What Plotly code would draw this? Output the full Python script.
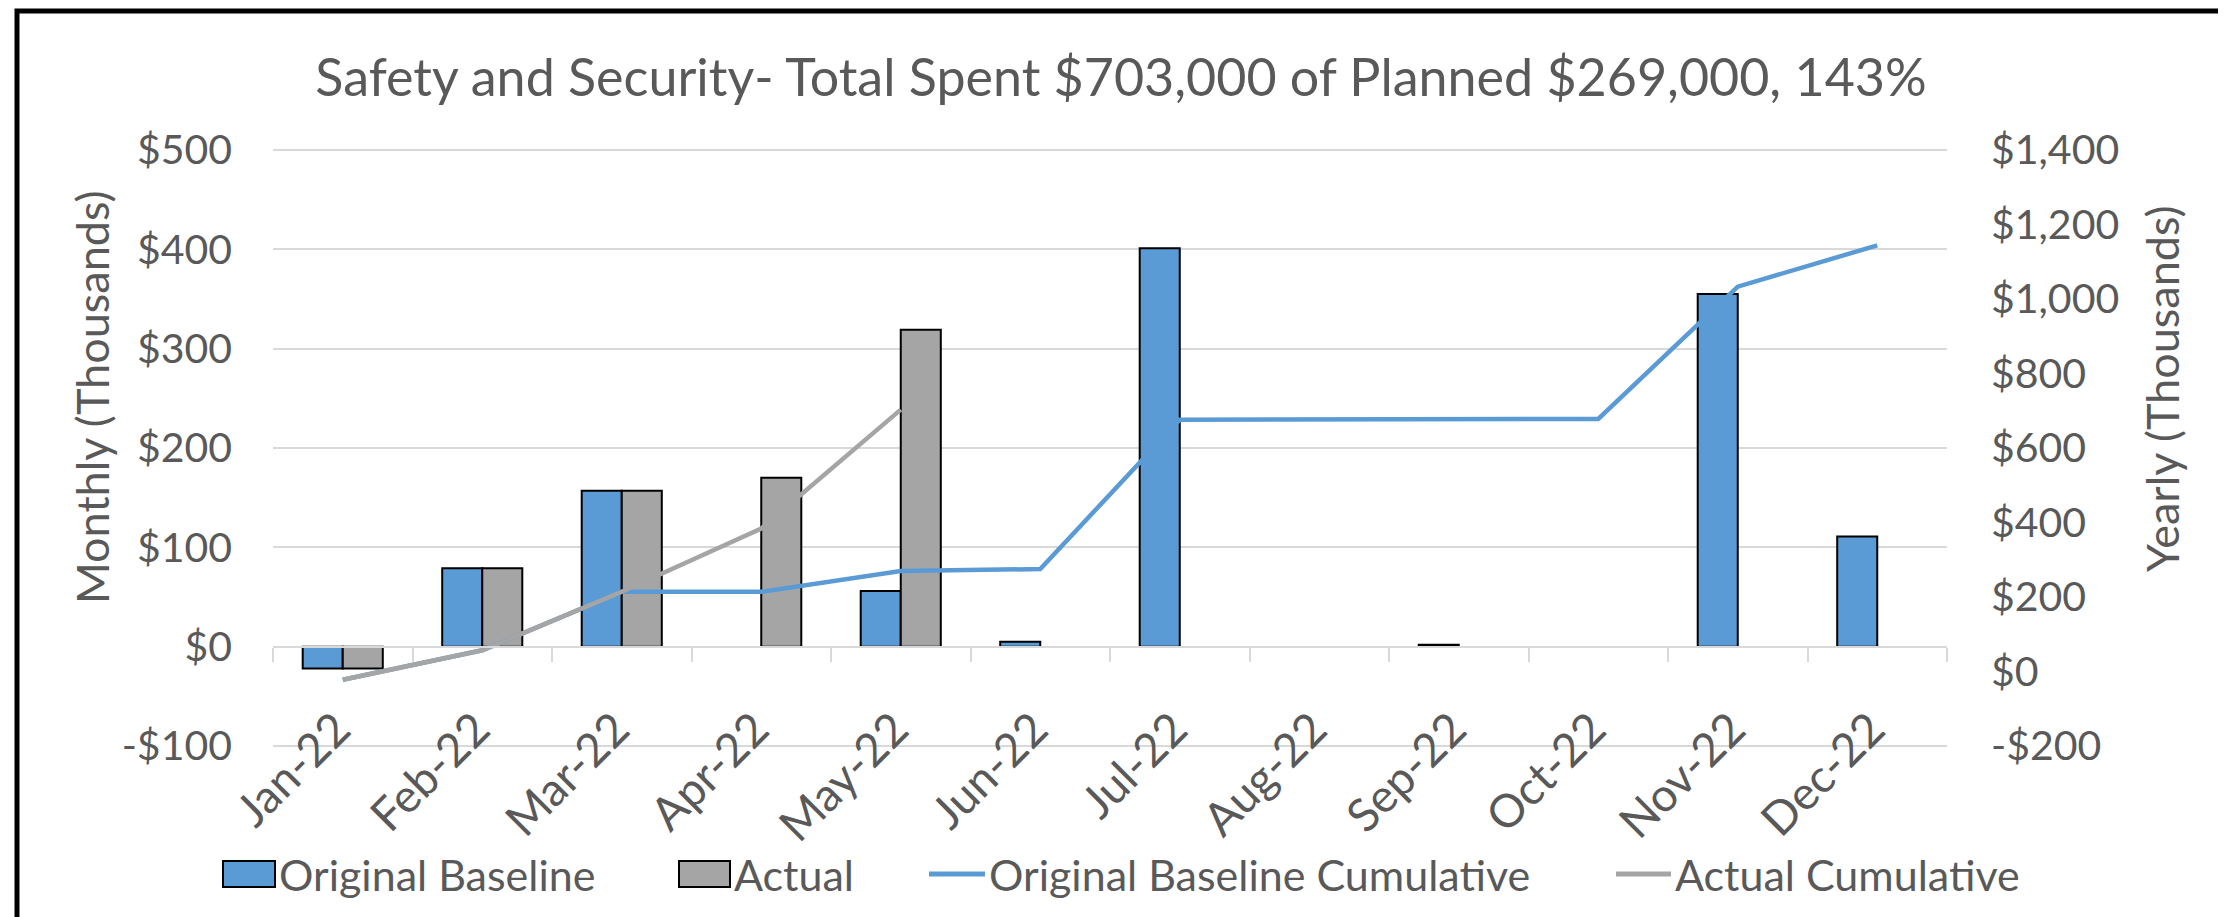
import plotly.graph_objects as go

# data (thousands of dollars)
months = ["Jan-22", "Feb-22", "Mar-22", "Apr-22", "May-22", "Jun-22",
          "Jul-22", "Aug-22", "Sep-22", "Oct-22", "Nov-22", "Dec-22"]
original_baseline = [-22, 79, 157, None, 56, 5, 401, None, 2, None, 355, 111]
actual = [-22, 79, 157, 170, 319, None, None, None, None, None, None, None]
original_cumulative = [-22, 57, 214, 214, 270, 275, 676, 676, 678, 678, 1033, 1144]
actual_cumulative = [-22, 57, 214, 384, 703]

left_ticks = [-100, 0, 100, 200, 300, 400, 500]
left_labels = ["-$100", "$0", "$100", "$200", "$300", "$400", "$500"]
right_ticks = [-200, 0, 200, 400, 600, 800, 1000, 1200, 1400]
right_labels = ["-$200", "$0", "$200", "$400", "$600", "$800", "$1,000", "$1,200", "$1,400"]

BLUE = "#5B9BD5"
GRAY = "#A5A5A5"
TXT = "#595959"
GRID = "#D9D9D9"
FONT = "Lato, Carlito, Calibri, sans-serif"

W, H = 2226, 917
L, R, T, B = 265, 287, 139, 176
PW, PH = W - L - R, H - T - B

# ranges padded by three units so plotly keeps the end gridlines
Y_RANGE = [-103, 503]
Y2_RANGE = [-200 - 3 * 1600 / 600, 1400 + 3 * 1600 / 600]


# pixel -> paper helpers (for the hand drawn legend and frame)
def px(x):
    return (x - L) / PW


def py(y):
    return (H - B - y) / PH


fig = go.Figure()

fig.add_trace(go.Bar(x=months, y=original_baseline, name="Original Baseline",
                     marker=dict(color=BLUE, line=dict(color="black", width=2))))
fig.add_trace(go.Bar(x=months, y=actual, name="Actual",
                     marker=dict(color=GRAY, line=dict(color="black", width=2))))
fig.add_trace(go.Scatter(x=months, y=original_cumulative, name="Original Baseline Cumulative",
                         mode="lines", line=dict(color=BLUE, width=4.5), yaxis="y2"))
fig.add_trace(go.Scatter(x=months[:len(actual_cumulative)], y=actual_cumulative,
                         name="Actual Cumulative", mode="lines",
                         line=dict(color=GRAY, width=4.5), yaxis="y2"))

fig.update_layout(
    width=W, height=H,
    margin=dict(l=L, r=R, t=T, b=B),
    paper_bgcolor="white", plot_bgcolor="white",
    font=dict(family=FONT, size=41, color=TXT),
    showlegend=False,
    barmode="group", bargap=0.426, bargroupgap=0,
    title=dict(text="Safety and Security- Total Spent $703,000 of Planned $269,000, 143%",
               x=0.5, xanchor="center", y=1 - 70 / H, yanchor="middle",
               font=dict(family=FONT, size=52, color=TXT)),
    xaxis=dict(type="category", anchor="free", position=(0 - Y_RANGE[0]) / (Y_RANGE[1] - Y_RANGE[0]),
               showline=True, linecolor=GRID, linewidth=2,
               ticks="outside", tickson="boundaries", ticklen=14,
               tickcolor=GRID, tickwidth=2, tickangle=-45,
               tickfont=dict(size=46), ticklabelstandoff=36, ticklabelshift=-6,
               showgrid=False, zeroline=False, range=[-0.5, 11.5]),
    yaxis=dict(range=Y_RANGE, tickvals=left_ticks, ticktext=left_labels,
               showgrid=True, gridcolor=GRID, gridwidth=2,
               zeroline=True, zerolinecolor=GRID, zerolinewidth=2,
               ticks="", ticklabelstandoff=40),
    yaxis2=dict(range=Y2_RANGE, tickvals=right_ticks, ticktext=right_labels,
                overlaying="y", side="right", showgrid=False, zeroline=False,
                ticks="", ticklabelstandoff=43),
)

# axis titles
fig.add_annotation(text="Monthly (Thousands)", xref="paper", yref="paper",
                   x=px(55), y=py(390), textangle=-90, showarrow=False,
                   font=dict(family=FONT, size=45, color=TXT))
fig.add_annotation(text="Yearly (Thousands)", xref="paper", yref="paper",
                   x=px(2183), y=py(381), textangle=-90, showarrow=False,
                   font=dict(family=FONT, size=45, color=TXT))

# legend drawn by hand so the keys have the reference's size
cy = 866
fig.add_shape(type="rect", xref="paper", yref="paper", x0=px(215), x1=px(267),
              y0=py(853), y1=py(879), fillcolor=BLUE, line=dict(color="black", width=2))
fig.add_shape(type="rect", xref="paper", yref="paper", x0=px(671), x1=px(722),
              y0=py(853), y1=py(879), fillcolor=GRAY, line=dict(color="black", width=2))
fig.add_shape(type="line", xref="paper", yref="paper", x0=px(921), x1=px(977),
              y0=py(cy), y1=py(cy), line=dict(color=BLUE, width=5))
fig.add_shape(type="line", xref="paper", yref="paper", x0=px(1608), x1=px(1663),
              y0=py(cy), y1=py(cy), line=dict(color=GRAY, width=5))
for label, x0 in [("Original Baseline", 269), ("Actual", 724),
                  ("Original Baseline Cumulative", 979), ("Actual Cumulative", 1665)]:
    fig.add_annotation(text=label, xref="paper", yref="paper", x=px(x0), y=py(cy),
                       xanchor="left", yanchor="middle", showarrow=False,
                       font=dict(family=FONT, size=43, color=TXT))

# outer frame (top, left, right; bottom is cut off in the reference)
fig.add_shape(type="rect", xref="paper", yref="paper", x0=px(9), x1=px(2218),
              y0=py(3), y1=py(940), line=dict(color="black", width=5), layer="above")

fig.write_html("out.html")
